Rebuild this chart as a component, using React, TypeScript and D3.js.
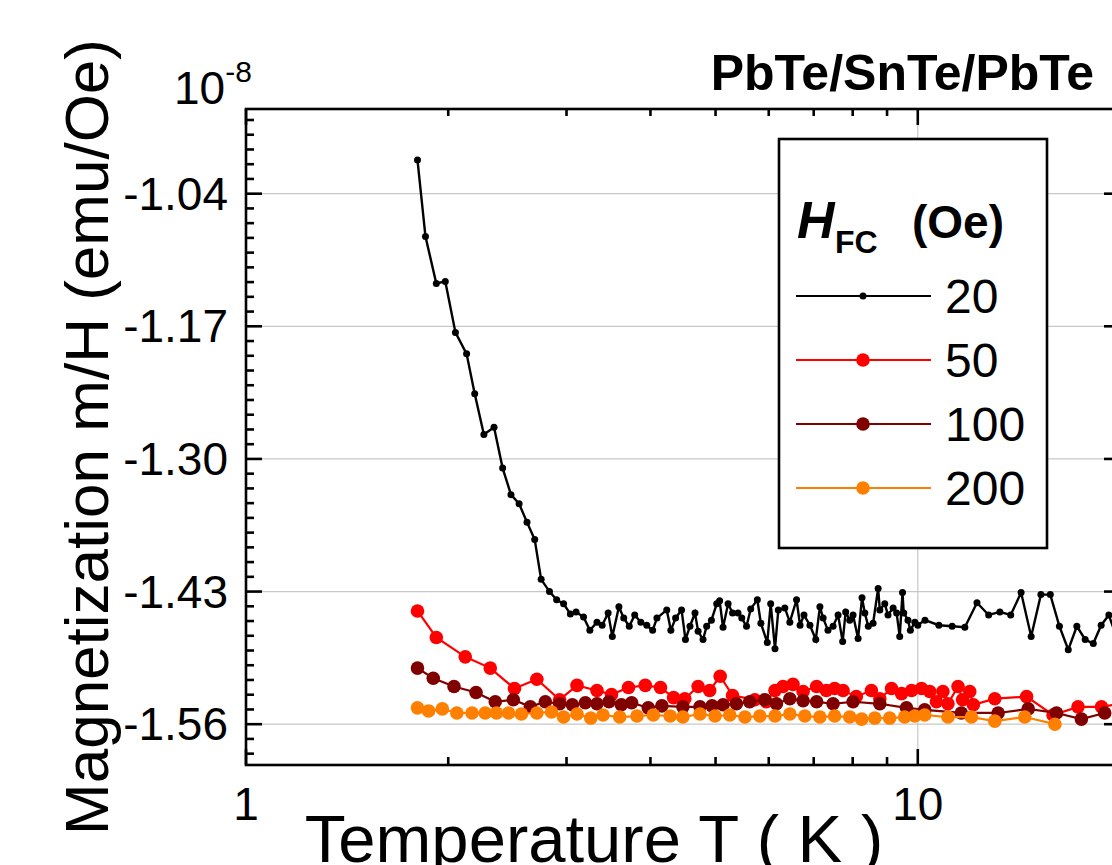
import React from "react";
import * as d3 from "d3";

// ---- data (T in K, m/H in units of 1e-8 emu/Oe) ----
const series20: [number, number][] = [
  [1.80,-1.007],[1.85,-1.082],[1.92,-1.128],[1.98,-1.126],[2.05,-1.176],[2.13,-1.197],[2.19,-1.236],[2.26,-1.276],
  [2.34,-1.269],[2.41,-1.309],[2.48,-1.335],[2.55,-1.344],[2.62,-1.362],[2.69,-1.379],[2.75,-1.418],[2.83,-1.430],
  [2.90,-1.438],[2.97,-1.442],[3.04,-1.452],[3.10,-1.450],[3.18,-1.455],[3.25,-1.468],[3.33,-1.460],[3.39,-1.463],
  [3.46,-1.451],[3.51,-1.474],[3.59,-1.445],[3.65,-1.456],[3.72,-1.464],[3.79,-1.453],[3.87,-1.460],[3.95,-1.463],
  [4.03,-1.468],[4.09,-1.456],[4.23,-1.448],[4.29,-1.468],[4.36,-1.456],[4.45,-1.448],[4.51,-1.477],[4.58,-1.464],
  [4.66,-1.451],[4.71,-1.469],[4.79,-1.477],[4.85,-1.464],[4.93,-1.458],[5.02,-1.442],[5.07,-1.439],[5.13,-1.465],
  [5.22,-1.442],[5.30,-1.451],[5.40,-1.451],[5.47,-1.456],[5.56,-1.464],[5.64,-1.447],[5.77,-1.438],[5.84,-1.461],
  [5.97,-1.480],[6.04,-1.442],[6.13,-1.486],[6.20,-1.448],[6.34,-1.446],[6.45,-1.460],[6.60,-1.438],[6.68,-1.463],
  [6.77,-1.453],[6.91,-1.463],[7.05,-1.477],[7.15,-1.445],[7.23,-1.456],[7.35,-1.468],[7.48,-1.464],[7.61,-1.453],
  [7.73,-1.479],[7.81,-1.450],[7.92,-1.458],[8.01,-1.453],[8.15,-1.476],[8.26,-1.436],[8.34,-1.451],[8.44,-1.464],
  [8.58,-1.461],[8.73,-1.427],[8.78,-1.448],[8.93,-1.442],[9.03,-1.453],[9.19,-1.446],[9.30,-1.451],[9.40,-1.474],
  [9.49,-1.431],[9.53,-1.451],[9.67,-1.458],[9.75,-1.468],[9.90,-1.460],[10.0,-1.463],[10.25,-1.458],[10.75,-1.463],
  [11.25,-1.464],[11.75,-1.465],[12.25,-1.441],[12.75,-1.453],[13.25,-1.450],[13.75,-1.453],[14.25,-1.431],[14.75,-1.474],
  [15.25,-1.433],[15.75,-1.433],[16.25,-1.464],[16.75,-1.487],[17.25,-1.464],[17.75,-1.477],[18.25,-1.481],[18.75,-1.463],
  [19.25,-1.453],[19.75,-1.474],
];

const series50: [number, number][] = [
  [1.80,-1.449],[1.92,-1.475],[2.12,-1.494],[2.31,-1.505],[2.51,-1.525],[2.71,-1.516],[2.93,-1.536],[3.11,-1.522],
  [3.33,-1.527],[3.50,-1.531],[3.71,-1.524],[3.93,-1.522],[4.14,-1.524],[4.33,-1.534],[4.50,-1.535],[4.71,-1.523],
  [4.90,-1.527],[5.08,-1.513],[5.30,-1.532],[5.72,-1.536],[5.95,-1.538],[6.13,-1.527],[6.30,-1.523],[6.52,-1.521],
  [6.75,-1.528],[7.07,-1.523],[7.31,-1.527],[7.52,-1.525],[7.74,-1.527],[8.10,-1.533],[8.53,-1.527],[8.78,-1.535],
  [9.14,-1.525],[9.46,-1.530],[9.79,-1.527],[10.13,-1.525],[10.42,-1.528],[10.66,-1.538],[10.90,-1.528],[11.09,-1.540],
  [11.48,-1.523],[11.66,-1.536],[11.95,-1.528],[12.10,-1.541],[13.02,-1.535],[14.52,-1.533],[15.90,-1.551],[17.32,-1.543],
  [18.77,-1.543],[20.0,-1.540],
];

const series100: [number, number][] = [
  [1.80,-1.505],[1.90,-1.515],[2.04,-1.523],[2.20,-1.529],[2.35,-1.538],[2.50,-1.536],[2.65,-1.543],[2.79,-1.538],
  [2.93,-1.540],[3.06,-1.541],[3.20,-1.539],[3.33,-1.540],[3.47,-1.538],[3.62,-1.541],[3.75,-1.539],[3.97,-1.544],
  [4.16,-1.542],[4.47,-1.543],[4.74,-1.543],[4.94,-1.542],[5.13,-1.541],[5.37,-1.540],[5.62,-1.538],[5.92,-1.536],
  [6.16,-1.540],[6.45,-1.535],[6.75,-1.537],[7.07,-1.538],[7.48,-1.540],[8.01,-1.538],[8.78,-1.540],[9.62,-1.544],
  [10.24,-1.546],[11.61,-1.549],[13.17,-1.549],[14.60,-1.545],[16.09,-1.549],[17.52,-1.555],[18.98,-1.549],
];

const series200: [number, number][] = [
  [1.80,-1.544],[1.87,-1.547],[1.96,-1.545],[2.06,-1.549],[2.17,-1.549],[2.27,-1.549],[2.36,-1.549],[2.46,-1.549],
  [2.57,-1.550],[2.71,-1.549],[2.85,-1.548],[2.97,-1.553],[3.11,-1.550],[3.26,-1.554],[3.40,-1.551],[3.60,-1.553],
  [3.82,-1.552],[4.04,-1.551],[4.28,-1.552],[4.47,-1.553],[4.74,-1.550],[4.99,-1.552],[5.25,-1.551],[5.53,-1.553],
  [5.82,-1.552],[6.13,-1.552],[6.45,-1.550],[6.79,-1.552],[7.15,-1.553],[7.52,-1.552],[7.92,-1.553],[8.25,-1.555],
  [8.63,-1.554],[9.08,-1.554],[9.56,-1.553],[9.90,-1.552],[10.24,-1.551],[11.09,-1.553],[12.02,-1.553],[13.02,-1.557],
  [14.43,-1.553],[16.0,-1.560],
];

const fieldLabels = ["20", "50", "100", "200"];
const seriesColors = ["#000000", "#ff0000", "#800000", "#ff8000"];
const markerRadii = [3.5, 6.8, 6.8, 6.8];
const yMajorTicks = [-1.56, -1.43, -1.30, -1.17, -1.04];
const yTickLabels = ["-1.56", "-1.43", "-1.30", "-1.17", "-1.04"];
const xMajorTicks = [1, 10];
const xTickLabels = ["1", "10"];
const xMinorTicks = [2, 3, 4, 5, 6, 7, 8, 9, 20];

const FONT = "'Liberation Sans', Arial, Helvetica, sans-serif";

export default function App() {
  const L = 246, R = 1120, T = 109, B = 765;
  const x = d3.scaleLog().domain([1, 20]).range([L, R]);
  const y = d3.scaleLinear().domain([-1.6, -0.957]).range([B, T]);
  const line = d3.line<[number, number]>().x(d => x(d[0])).y(d => y(d[1]));
  const allSeries = [series20, series50, series100, series200];

  const minorStep = 0.13 / 9;
  const yMinor: number[] = [];
  for (let i = -3; i <= 45; i++) {
    if (i % 9 === 0) continue;
    const v = -1.56 + i * minorStep;
    if (v > -1.6 && v < -0.957) yMinor.push(v);
  }

  const legendY = [296, 360, 424, 488];

  return (
    <svg width={1112} height={865} style={{ position: "absolute", left: 0, top: 0, background: "#fff" }}
      fontFamily={FONT}>
      <defs>
        <clipPath id="plotClip">
          <rect x={L} y={T - 10} width={R - L} height={B - T + 20} />
        </clipPath>
      </defs>
      <rect x={0} y={0} width={1112} height={865} fill="#fff" />
      {/* grid */}
      {yMajorTicks.map((v, i) => (
        <line key={"gy" + i} x1={L} x2={R} y1={y(v)} y2={y(v)} stroke="#c8c8c8" strokeWidth={1.2} />
      ))}
      <line x1={x(10)} x2={x(10)} y1={T} y2={B} stroke="#c8c8c8" strokeWidth={1.2} />

      {/* data */}
      <g clipPath="url(#plotClip)">
        {allSeries.map((s, i) => (
          <g key={"s" + i}>
            <path d={line(s) || ""} fill="none" stroke={seriesColors[i]} strokeWidth={i === 0 ? 2.4 : 2.2} />
            {s.map((d, j) => (
              <circle key={j} cx={x(d[0])} cy={y(d[1])} r={markerRadii[i]} fill={seriesColors[i]} />
            ))}
          </g>
        ))}
      </g>

      {/* frame */}
      <rect x={L} y={T} width={R - L} height={B - T} fill="none" stroke="#000" strokeWidth={2.6} />

      {/* y ticks */}
      {yMajorTicks.map((v, i) => (
        <g key={"yt" + i}>
          <line x1={L} x2={L + 16} y1={y(v)} y2={y(v)} stroke="#000" strokeWidth={2.6} />
          <line x1={R} x2={R - 16} y1={y(v)} y2={y(v)} stroke="#000" strokeWidth={2.6} />
          <text x={228} y={y(v) + 16} fontSize={46} textAnchor="end">{yTickLabels[i]}</text>
        </g>
      ))}
      {yMinor.map((v, i) => (
        <g key={"ym" + i}>
          <line x1={L} x2={L + 8} y1={y(v)} y2={y(v)} stroke="#000" strokeWidth={2.6} />
          <line x1={R} x2={R - 8} y1={y(v)} y2={y(v)} stroke="#000" strokeWidth={2.6} />
        </g>
      ))}

      {/* x ticks */}
      {xMajorTicks.map((v, i) => (
        <g key={"xt" + i}>
          <line x1={x(v)} x2={x(v)} y1={B} y2={B - 16} stroke="#000" strokeWidth={2.6} />
          <line x1={x(v)} x2={x(v)} y1={T} y2={T + 16} stroke="#000" strokeWidth={2.6} />
          <text x={x(v)} y={820} fontSize={46} textAnchor="middle">{xTickLabels[i]}</text>
        </g>
      ))}
      {xMinorTicks.map((v, i) => (
        <g key={"xm" + i}>
          <line x1={x(v)} x2={x(v)} y1={B} y2={B - 8} stroke="#000" strokeWidth={2.6} />
          <line x1={x(v)} x2={x(v)} y1={T} y2={T + 7} stroke="#000" strokeWidth={2.6} />
        </g>
      ))}

      {/* multiplier */}
      <text x={174} y={104} fontSize={46}>
        10<tspan fontSize={30} dy={-22}>-8</tspan>
      </text>

      {/* title */}
      <text x={1094} y={90} fontSize={50} fontWeight="bold" textAnchor="end">PbTe/SnTe/PbTe</text>

      {/* axis titles */}
      <text x={594} y={862} fontSize={67} textAnchor="middle">Temperature T ( K )</text>
      <text transform="translate(108,437) rotate(-90)" fontSize={62} textAnchor="middle">
        Magnetization m/H (emu/Oe)
      </text>

      {/* legend */}
      <rect x={779} y={139} width={268} height={409} fill="#fff" stroke="#000" strokeWidth={2.6} />
      <text x={797} y={238} fontSize={52} fontWeight="bold" fontStyle="italic">H</text>
      <text x={835} y={253} fontSize={32} fontWeight="bold">FC</text>
      <text x={912} y={238} fontSize={46} fontWeight="bold">(Oe)</text>
      {fieldLabels.map((lab, i) => (
        <g key={"lg" + i}>
          <line x1={796} x2={931} y1={legendY[i]} y2={legendY[i]} stroke={seriesColors[i]} strokeWidth={2.2} />
          <circle cx={863} cy={legendY[i]} r={i === 0 ? 3.5 : 6.8} fill={seriesColors[i]} />
          <text x={945} y={legendY[i] + 17} fontSize={48}>{lab}</text>
        </g>
      ))}
    </svg>
  );
}
